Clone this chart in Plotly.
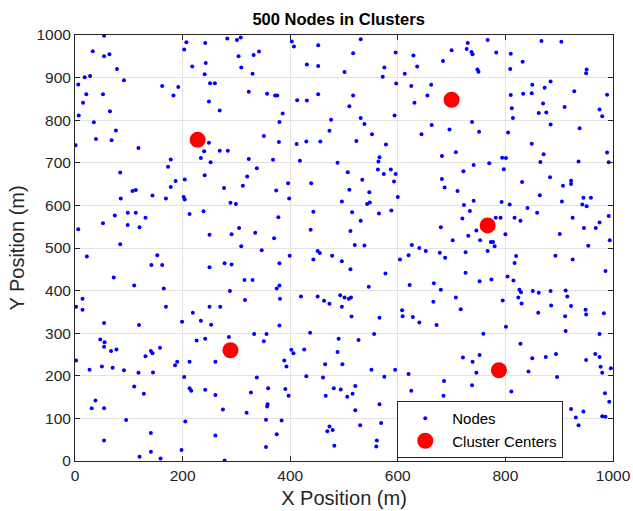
import plotly.graph_objects as go

node_x = [
54,207,242,203,33,64,54,218,243,78,241,18,28,91,6,162,192,21,52,183,15,7,65,35,76,39,68,1,118,240,178,234,173,84,241,
283,301,308,403,407,452,342,332,304,431,452,309,330,251,260,323,357,372,376,249,452,413,431,269,386,380,476,473,351,249,379,412,430,456,269,284,252,323,368,418,488,338,320,
531,517,596,629,730,700,728,737,739,684,575,636,501,572,613,597,625,662,517,655,510,631,531,594,538,663,738,552,696,644,523,578,708,682,566,564,741,507,563,587,574,596,722,
767,867,904,783,810,832,748,750,809,951,950,884,850,873,810,833,849,928,989,870,812,910,862,876,975,980,814,884,938,751,805,849,871,989,794,801,770,865,936,992,797,883,
204,187,178,107,113,144,85,169,202,204,98,113,74,213,239,131,52,98,120,6,84,22,153,142,162,72,110,165,14,2,14,169,219,
277,312,396,439,374,398,289,299,496,443,378,438,305,335,370,250,291,309,347,399,451,455,443,478,496,250,278,291,380,315,330,380,375,288,316,381,420,451,463,473,493,250,270,496,
534,593,682,510,547,687,711,600,543,548,741,723,734,515,565,588,720,531,680,512,746,731,702,520,538,626,640,652,678,726,620,688,604,512,577,726,546,622,667,680,501,509,513,708,666,717,514,566,608,609,628,
831,907,922,922,864,945,959,793,808,905,943,951,841,859,782,791,817,828,925,992,975,946,968,800,901,753,773,777,780,767,954,994,820,893,925,817,986,804,752,774,815,826,829,851,862,884,912,824,915,795,830,885,922,949,861,911,950,983,
54,119,199,234,47,55,54,67,77,158,226,242,141,144,131,2,27,50,70,91,118,145,190,186,213,203,110,128,213,216,242,38,31,54,95,205,141,54,198,141,120,159,
253,380,333,356,437,286,351,490,402,406,426,488,261,389,393,465,497,338,430,461,359,391,481,494,261,327,397,466,358,357,275,319,355,384,473,469,479,261,375,482,355,278,
640,672,527,556,721,739,551,595,575,620,746,686,738,521,625,516,506,685,566,521,530,569,561,560,
801,759,912,975,828,752,894,967,850,875,975,950,977,996,843,980,896,811,985,993,890,922,945,931,980,986,936,
]
node_y = [
998,983,981,966,962,955,950,926,934,920,908,901,904,894,884,880,878,861,861,858,841,811,821,795,776,756,753,741,735,727,708,711,691,677,671,
992,988,994,985,973,976,961,953,950,931,927,924,909,887,887,867,862,858,858,844,861,847,846,823,816,796,801,775,763,747,749,744,750,750,728,728,701,709,707,705,700,687,668,
990,957,959,952,981,964,967,960,955,939,924,926,913,902,909,886,880,883,858,858,833,841,805,811,791,789,796,767,778,767,751,743,725,716,713,703,695,678,684,684,674,674,680,
988,986,984,959,956,937,919,914,920,919,910,891,883,876,859,862,863,868,860,839,828,831,817,818,825,809,805,790,781,773,771,745,720,724,712,711,699,702,703,701,685,666,
661,657,643,634,636,623,616,616,620,614,583,583,576,580,586,571,558,554,549,544,509,480,483,460,460,431,412,405,381,362,355,362,348,
641,646,652,652,635,616,606,603,609,585,572,543,547,536,523,531,532,504,495,482,493,488,473,482,469,455,464,461,464,425,425,412,405,399,378,381,386,386,376,369,389,362,362,362,
660,656,662,637,631,642,634,620,603,607,611,601,587,584,581,588,569,564,549,540,541,529,518,507,506,507,500,493,489,490,483,477,473,450,440,442,409,413,417,402,384,381,384,384,374,356,339,336,354,340,338,
655,646,658,650,624,618,618,608,602,609,602,598,594,583,571,571,571,564,571,575,560,547,547,532,533,518,514,514,504,493,505,518,481,482,473,465,446,433,422,426,424,402,396,399,395,399,400,384,386,377,370,365,364,355,348,340,344,347,
324,319,327,329,285,279,268,258,262,266,283,287,258,253,246,236,214,222,219,213,207,208,233,225,233,197,175,158,171,165,167,142,124,124,96,93,66,48,26,22,10,6,
320,318,298,298,301,291,281,287,261,253,262,256,233,236,222,227,227,196,199,196,171,169,171,168,155,161,153,153,133,128,121,113,97,95,81,70,73,60,63,36,33,1,
325,319,284,298,243,233,214,214,198,204,207,188,178,176,165,158,151,153,133,119,84,89,48,34,
315,299,305,298,275,249,251,251,241,244,244,237,221,218,210,207,197,163,159,139,134,122,116,102,105,104,84,
]

center_x = [228, 700, 767, 289, 788]
center_y = [754, 848, 553, 260, 213]

x_ticks = [0, 200, 400, 600, 800, 1000]
y_ticks = [0, 100, 200, 300, 400, 500, 600, 700, 800, 900, 1000]

FONT = "Liberation Sans, Arial, Helvetica, sans-serif"
AX = "#262626"

fig = go.Figure()
fig.add_trace(go.Scatter(x=node_x, y=node_y, mode="markers", name="Nodes",
                         marker=dict(color="#0000FF", size=4, line=dict(width=0))))
fig.add_trace(go.Scatter(x=center_x, y=center_y, mode="markers", name="Cluster Centers",
                         marker=dict(color="#FF0000", size=16, line=dict(width=0))))

axis_common = dict(showline=True, linecolor=AX, linewidth=1, mirror="ticks",
                   ticks="inside", ticklen=5, tickcolor=AX, showgrid=True,
                   gridcolor="#E3E3E3", gridwidth=1, zeroline=False, automargin=False,
                   tickfont=dict(family=FONT, size=15.5, color=AX))

fig.update_xaxes(range=[0, 1000], tickvals=x_ticks, ticktext=[str(v) for v in x_ticks],
                 title=dict(text="X Position (m)", font=dict(family=FONT, size=20, color=AX), standoff=8),
                 **axis_common)
fig.update_yaxes(range=[0, 1000], tickvals=y_ticks, ticktext=[str(v) for v in y_ticks],
                 title=dict(text="Y Position (m)", font=dict(family=FONT, size=20, color=AX), standoff=6),
                 **axis_common)

fig.update_layout(
    width=633, height=511,
    margin=dict(l=75, r=20, t=35, b=50),
    paper_bgcolor="white", plot_bgcolor="white",
    title=dict(text="<b>500 Nodes in Clusters</b>", x=0.49, xref="paper", xanchor="center",
               y=1 - 19 / 511, yref="container", yanchor="middle",
               font=dict(family=FONT, size=16.5, color="black")),
    legend=dict(x=0.599, y=0.074, xanchor="left", yanchor="middle",
                bgcolor="white", bordercolor=AX, borderwidth=1,
                font=dict(family=FONT, size=15, color="black"),
                itemwidth=44, tracegroupgap=0),
    showlegend=True,
)

fig.write_html("out.html")
